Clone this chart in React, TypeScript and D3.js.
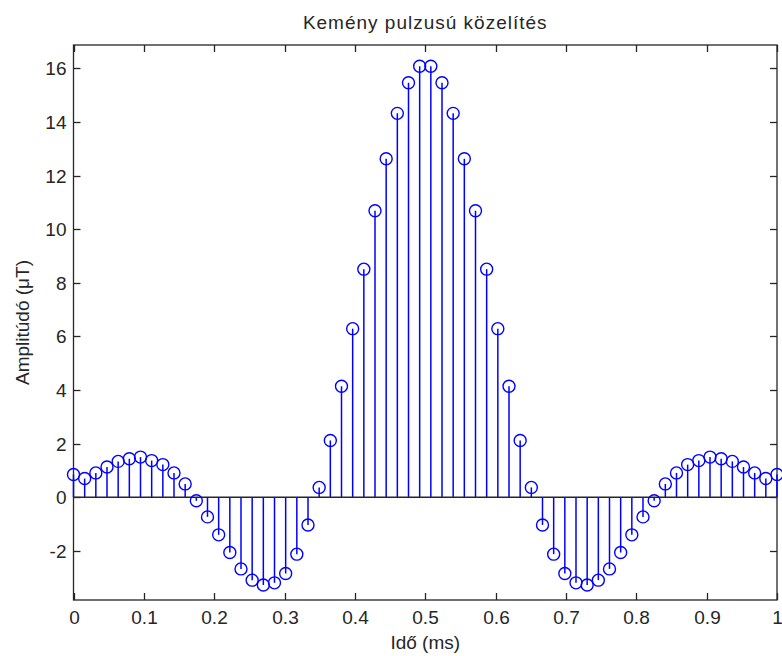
import React, { useEffect, useRef } from "react";
import * as d3 from "d3";

// time samples (ms): 64 points, evenly spaced from 0 to 1
const sampleCount = 64;
const times: number[] = d3.range(sampleCount).map((i) => i / (sampleCount - 1));

// amplitude (µT)
const amplitudes: number[] = [
  0.85, 0.7, 0.91, 1.13, 1.34, 1.44, 1.5, 1.37, 1.22, 0.91, 0.5, -0.13, -0.73, -1.4, -2.06, -2.67,
  -3.09, -3.27, -3.19, -2.84, -2.12, -1.03, 0.37, 2.12, 4.14, 6.29, 8.51, 10.69, 12.63, 14.32, 15.46, 16.08,
  16.08, 15.46, 14.32, 12.63, 10.69, 8.51, 6.29, 4.14, 2.12, 0.37, -1.03, -2.12, -2.84, -3.19, -3.27, -3.09,
  -2.67, -2.06, -1.4, -0.73, -0.13, 0.5, 0.91, 1.22, 1.37, 1.5, 1.44, 1.34, 1.13, 0.91, 0.7, 0.85,
];

const xTicks = [0, 0.1, 0.2, 0.3, 0.4, 0.5, 0.6, 0.7, 0.8, 0.9, 1];
const yTicks = [-2, 0, 2, 4, 6, 8, 10, 12, 14, 16];

const title = "Kemény pulzusú közelítés";
const xLabel = "Idő (ms)";
const yLabel = "Amplitúdó (μT)";

const App = () => {
  const svgRef = useRef<SVGSVGElement>(null);

  useEffect(() => {
    const svg = d3.select(svgRef.current);
    svg.selectAll("*").remove();

    const W = 782;
    const H = 656;
    const margin = { top: 45, right: 5, bottom: 56, left: 73.5 };
    const x0 = margin.left;
    const x1 = W - margin.right;
    const y0 = margin.top;
    const y1 = H - margin.bottom;
    const font = "Arial, 'Liberation Sans', Helvetica, sans-serif";
    const axisColor = "#262626";
    const blue = "#0000ff";

    svg.append("rect").attr("width", W).attr("height", H).attr("fill", "#fff");

    const x = d3.scaleLinear().domain([0, 1]).range([x0, x1]);
    const y = d3.scaleLinear().domain([-3.83, 16.87]).range([y1, y0]);

    const tickLen = 7;

    // box
    svg
      .append("rect")
      .attr("x", x0)
      .attr("y", y0)
      .attr("width", x1 - x0)
      .attr("height", y1 - y0)
      .attr("fill", "none")
      .attr("stroke", axisColor)
      .attr("stroke-width", 1.3);

    // x ticks (bottom & top, inward)
    const xt = svg.append("g");
    xTicks.forEach((t) => {
      const px = Math.round(x(t)) + 0.5;
      xt.append("line").attr("x1", px).attr("x2", px).attr("y1", y1).attr("y2", y1 - tickLen);
      xt.append("line").attr("x1", px).attr("x2", px).attr("y1", y0).attr("y2", y0 + tickLen);
      svg
        .append("text")
        .attr("x", px)
        .attr("y", y1 + 24)
        .attr("text-anchor", "middle")
        .style("font-family", font)
        .style("font-size", "19px")
        .attr("fill", axisColor)
        .text(d3.format("")(t));
    });
    xt.selectAll("line").attr("stroke", axisColor).attr("stroke-width", 1.3);

    // y ticks (left & right, inward)
    const yt = svg.append("g");
    yTicks.forEach((t) => {
      const py = Math.round(y(t)) + 0.5;
      yt.append("line").attr("x1", x0).attr("x2", x0 + tickLen).attr("y1", py).attr("y2", py);
      yt.append("line").attr("x1", x1).attr("x2", x1 - tickLen).attr("y1", py).attr("y2", py);
      svg
        .append("text")
        .attr("x", x0 - 7)
        .attr("y", py)
        .attr("dy", "0.36em")
        .attr("text-anchor", "end")
        .style("font-family", font)
        .style("font-size", "19px")
        .attr("fill", axisColor)
        .text(t);
    });
    yt.selectAll("line").attr("stroke", axisColor).attr("stroke-width", 1.3);

    // stems
    const stems = svg.append("g");
    stems
      .selectAll("line")
      .data(amplitudes)
      .enter()
      .append("line")
      .attr("x1", (d, i) => x(times[i]))
      .attr("x2", (d, i) => x(times[i]))
      .attr("y1", y(0))
      .attr("y2", (d) => y(d))
      .attr("stroke", blue)
      .attr("stroke-width", 1.5);

    // baseline
    svg
      .append("line")
      .attr("x1", x0)
      .attr("x2", x1)
      .attr("y1", y(0))
      .attr("y2", y(0))
      .attr("stroke", axisColor)
      .attr("stroke-width", 1.4);

    // markers
    svg
      .append("g")
      .selectAll("circle")
      .data(amplitudes)
      .enter()
      .append("circle")
      .attr("cx", (d, i) => x(times[i]))
      .attr("cy", (d) => y(d))
      .attr("r", 6)
      .attr("fill", "none")
      .attr("stroke", blue)
      .attr("stroke-width", 1.4);

    // title & labels
    svg
      .append("text")
      .attr("x", (x0 + x1) / 2)
      .attr("y", 29)
      .attr("text-anchor", "middle")
      .style("font-family", font)
      .style("font-size", "19px")
      .style("letter-spacing", "1px")
      .attr("fill", axisColor)
      .text(title);

    svg
      .append("text")
      .attr("x", (x0 + x1) / 2)
      .attr("y", 649)
      .attr("text-anchor", "middle")
      .style("font-family", font)
      .style("font-size", "19px")
      .attr("fill", axisColor)
      .text(xLabel);

    svg
      .append("text")
      .attr("transform", `translate(29,${(y0 + y1) / 2}) rotate(-90)`)
      .attr("text-anchor", "middle")
      .style("font-family", font)
      .style("font-size", "19px")
      .attr("fill", axisColor)
      .text(yLabel);
  }, []);

  return (
    <svg
      ref={svgRef}
      width={782}
      height={656}
      style={{ position: "absolute", left: 0, top: 0, display: "block" }}
    ></svg>
  );
};

export default App;
